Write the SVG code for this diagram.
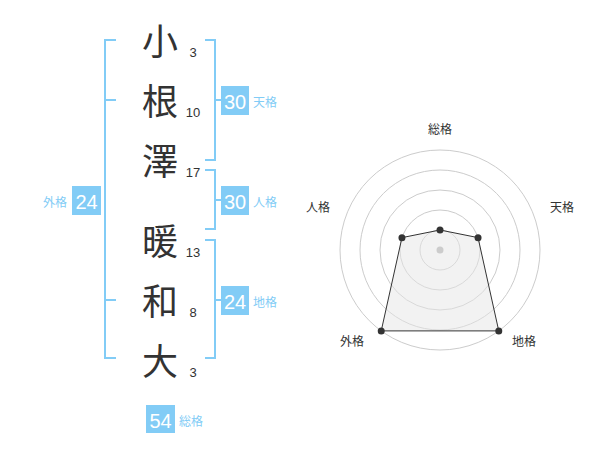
<svg xmlns="http://www.w3.org/2000/svg" width="600" height="470" viewBox="0 0 600 470">
<style>
.br{fill:none;stroke:#82ccf6;stroke-width:2}
.box{fill:#82ccf6}
.bn{font-family:"Liberation Sans",Arial,sans-serif;font-size:20px;fill:#fff;text-anchor:middle}
.lb{font-family:"Noto Sans CJK JP",sans-serif;font-size:12px;fill:#82ccf6}
.kj{font-family:"Noto Sans CJK JP",sans-serif;font-size:36px;fill:#333;text-anchor:middle}
.st{font-family:"Liberation Sans",Arial,sans-serif;font-size:13px;fill:#333;text-anchor:middle}
.ring{fill:none;stroke:#ccc;stroke-width:1}
.rl{font-family:"Noto Sans CJK JP",sans-serif;font-size:12px;fill:#333;text-anchor:middle}
.dot{fill:#333}
</style>
<rect width="600" height="470" fill="#fff"/>
<g id="connectors">
<path class="br" d="M116,40 H105 V358 H116 M105,100 H116 M105,300 H116"/>
<path class="br" d="M205,40 H215 V160 H205 M215,100 H221"/>
<path class="br" d="M205,170 H215 V229 H205 M215,200 H221"/>
<path class="br" d="M205,240 H215 V358 H205 M215,300 H221"/>
</g>
<g id="name">
<text class="kj" x="160" y="55">小</text>
<text class="kj" x="160" y="115">根</text>
<text class="kj" x="160" y="175">澤</text>
<text class="kj" x="160" y="255">暖</text>
<text class="kj" x="160" y="315">和</text>
<text class="kj" x="160" y="375">大</text>
<text class="st" x="193" y="57">3</text>
<text class="st" x="193" y="117">10</text>
<text class="st" x="193" y="177">17</text>
<text class="st" x="193" y="257">13</text>
<text class="st" x="193" y="317">8</text>
<text class="st" x="193" y="377">3</text>
</g>
<g id="tenkaku">
<rect class="box" x="221" y="86" width="28" height="29"/>
<text class="bn" x="235" y="109">30</text>
<text class="lb" x="253" y="107">天格</text>
</g>
<g id="jinkaku">
<rect class="box" x="221" y="186" width="28" height="29"/>
<text class="bn" x="235" y="209">30</text>
<text class="lb" x="253" y="207">人格</text>
</g>
<g id="chikaku">
<rect class="box" x="221" y="286" width="28" height="29"/>
<text class="bn" x="235" y="309">24</text>
<text class="lb" x="253" y="307">地格</text>
</g>
<g id="gaikaku">
<rect class="box" x="72" y="186" width="29" height="29"/>
<text class="bn" x="86.5" y="209">24</text>
<text class="lb" x="67" y="207" text-anchor="end">外格</text>
</g>
<g id="soukaku">
<rect class="box" x="146" y="405" width="29" height="28"/>
<text class="bn" x="160.5" y="428">54</text>
<text class="lb" x="179" y="426">総格</text>
</g>
<g id="radar">
<circle class="ring" cx="440" cy="250" r="100"/>
<circle class="ring" cx="440" cy="250" r="80"/>
<circle class="ring" cx="440" cy="250" r="60"/>
<circle class="ring" cx="440" cy="250" r="40"/>
<circle class="ring" cx="440" cy="250" r="20"/>
<polygon points="440,230 478.04,237.64 498.78,330.9 381.22,330.9 401.96,237.64" fill="#e6e6e6" fill-opacity="0.5" stroke="#333" stroke-width="1"/>
<circle cx="440" cy="250" r="3.5" fill="#ccc"/>
<circle class="dot" cx="440" cy="230" r="3.5"/>
<circle class="dot" cx="478.04" cy="237.64" r="3.5"/>
<circle class="dot" cx="498.78" cy="330.9" r="3.5"/>
<circle class="dot" cx="381.22" cy="330.9" r="3.5"/>
<circle class="dot" cx="401.96" cy="237.64" r="3.5"/>
<text class="rl" x="440" y="134">総格</text>
<text class="rl" x="562" y="212">天格</text>
<text class="rl" x="318" y="212">人格</text>
<text class="rl" x="352" y="346">外格</text>
<text class="rl" x="524" y="346">地格</text>
</g>
</svg>
